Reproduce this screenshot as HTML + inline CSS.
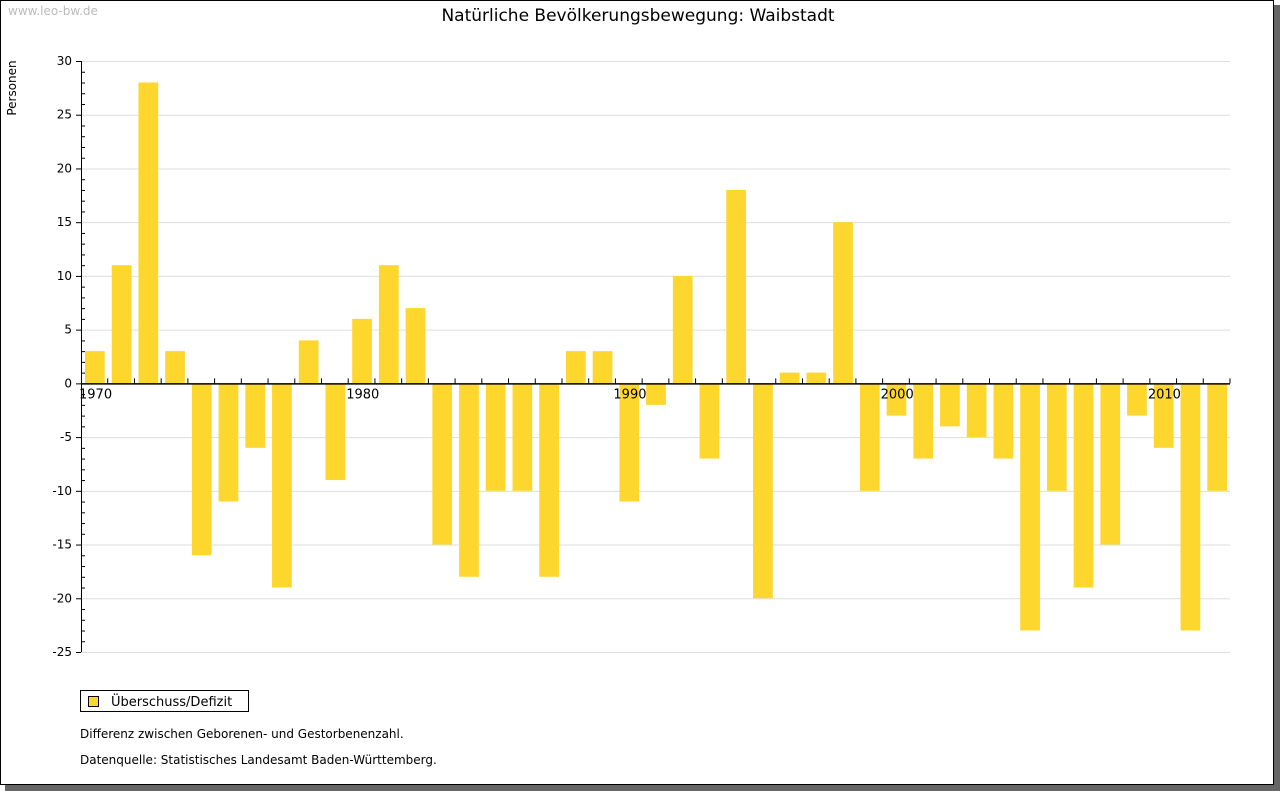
<!DOCTYPE html>
<html><head><meta charset="utf-8"><style>
body{margin:0;background:#fff;}
svg{display:block;font-family:"DejaVu Sans","Liberation Sans",sans-serif;}
</style></head><body>
<svg id="c" width="1280" height="791">
<rect x="5" y="5" width="1275" height="786" fill="#666"/>
<rect x="0.5" y="0.5" width="1273" height="784" fill="#fff" stroke="#000"/>
<text x="8" y="15" font-size="12" fill="#bbb">www.leo-bw.de</text>
<text x="638" y="21" font-size="17" text-anchor="middle">Natürliche Bevölkerungsbewegung: Waibstadt</text>
<text transform="translate(16,88) rotate(-90)" font-size="12" text-anchor="middle">Personen</text>
<g id="grid"></g><g id="bars"></g><g id="axes"></g>
<rect x="80.5" y="690.5" width="168" height="21" fill="#fff" stroke="#000"/>
<rect x="88.5" y="696.5" width="10" height="10" fill="#fdd72e" stroke="#000"/>
<text x="111" y="706" font-size="13">Überschuss/Defizit</text>
<text x="80" y="738" font-size="12">Differenz zwischen Geborenen- und Gestorbenenzahl.</text>
<text x="80" y="764" font-size="12">Datenquelle: Statistisches Landesamt Baden-Württemberg.</text>
</svg>
<script>
const years=[1970,1971,1972,1973,1974,1975,1976,1977,1978,1979,1980,1981,1982,1983,1984,1985,1986,1987,1988,1989,1990,1991,1992,1993,1994,1995,1996,1997,1998,1999,2000,2001,2002,2003,2004,2005,2006,2007,2008,2009,2010,2011,2012];
const values=[3,11,28,3,-16,-11,-6,-19,4,-9,6,11,7,-15,-18,-10,-10,-18,3,3,-11,-2,10,-7,18,-20,1,1,15,-10,-3,-7,-4,-5,-7,-23,-10,-19,-15,-3,-6,-23,-10];
const yTicks=[30,25,20,15,10,5,0,-5,-10,-15,-20,-25];
const xLabels=[1970,1980,1990,2000,2010];
const NS='http://www.w3.org/2000/svg';
const X0=81,X1=1230,Y0=61,Y1=652,vMax=30,vMin=-25;
const step=(X1-X0)/years.length;
const xs=i=>X0+i*step;
const ys=v=>Y0+(vMax-v)*(Y1-Y0)/(vMax-vMin);
function mk(t,a,p){const e=document.createElementNS(NS,t);for(const k in a)e.setAttribute(k,a[k]);document.getElementById(p).appendChild(e);return e;}
yTicks.forEach(v=>{
 const g=mk('line',{x1:X0,x2:X1,y1:ys(v)+.5,y2:ys(v)+.5,stroke:'#ddd'},'grid');
 
 
 const t=mk('line',{x1:X0-5,x2:X0,y1:ys(v)+.5,y2:ys(v)+.5,stroke:'#000'},'axes');
 
 
 const l=mk('text',{x:X0-9,y:ys(v)+4,'font-size':12,'text-anchor':'end'},'axes');
 l.textContent=v;
 
 
});
for(let v=vMin;v<=vMax;v++){
 if(v%5===0)continue;
 const t=mk('line',{x1:X0,x2:X0+4,y1:ys(v)+.5,y2:ys(v)+.5,stroke:'#000'},'axes');
 
 
}
values.forEach((v,i)=>{
 const y=Math.min(ys(v),ys(0)),h=Math.abs(ys(v)-ys(0));
 const b=mk('rect',{x:xs(i)+4,y:y,width:step-7,height:h,fill:'#fdd72e'},'bars');
 
 
});
const ya=mk('line',{x1:X0+.5,x2:X0+.5,y1:Y0,y2:Y1,stroke:'#000'},'axes');


const xa=mk('line',{x1:X0,x2:X1,y1:ys(0)+.5,y2:ys(0)+.5,stroke:'#000','stroke-width':1.5},'axes');


for(let i=1;i<=years.length;i++){
 const t=mk('line',{x1:xs(i),x2:xs(i),y1:ys(0)-5,y2:ys(0),stroke:'#000'},'axes');
 
 
}
xLabels.forEach(yr=>{
 const i=years.indexOf(yr);
 const l=mk('text',{x:xs(i)-2,y:ys(0)+15,'font-size':13},'axes');
 l.textContent=yr;
 
 
});
</script>
</body></html>
